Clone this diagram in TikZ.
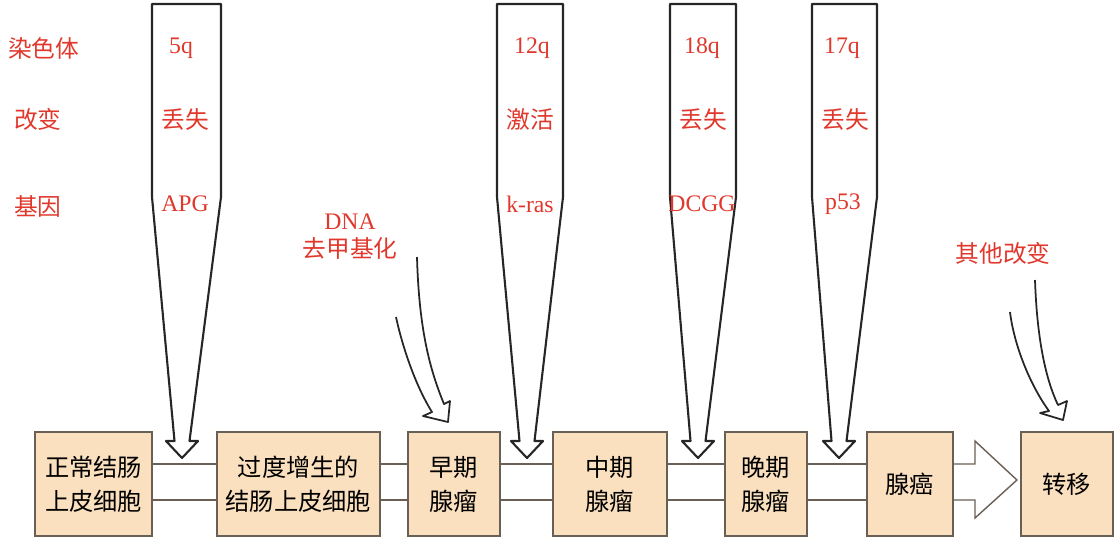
\documentclass[tikz,border=0pt]{standalone}
\usepackage{fontspec}
\setmainfont{Liberation Serif}
\newfontfamily\cjk{Noto Sans CJK SC}
\usepackage{xcolor}
\usepackage{tikz}
\usetikzlibrary{arrows,positioning}
\definecolor{labelred}{RGB}{224,56,44}
\definecolor{stagefill}{RGB}{250,224,190}
\definecolor{stageline}{RGB}{105,95,85}
\tikzstyle{stage} = [rectangle, draw=stageline, fill=stagefill, line width=1pt, align=center, minimum height=2.08cm, inner sep=2pt, font=\cjk\fontsize{13.8}{19.3}\selectfont]
\tikzstyle{change} = [text=labelred, align=center, inner sep=1pt, font=\fontsize{13.5}{16}\selectfont]
\tikzstyle{funnel} = [draw=black!85, line width=1.2pt, line join=round]
\tikzstyle{link} = [draw=stageline, line width=0.8pt]

\begin{document}
\begin{tikzpicture}[x=0.02cm, y=-0.02cm, node distance=3.12cm, >=stealth]
	\useasboundingbox (0,0) rectangle (1118,539);
	% stages
	\node[stage, minimum width=2.34cm] (normal) at (93.5,484) {正常结肠\\上皮细胞};
	\node[stage, minimum width=3.26cm] (hyper) [right of=normal, node distance=4.1cm] {过度增生的\\结肠上皮细胞};
	\node[stage, minimum width=1.84cm] (early) [right of=hyper, node distance=3.11cm] {早期\\腺瘤};
	\node[stage, minimum width=2.28cm] (mid) [right of=early] {中期\\腺瘤};
	\node[stage, minimum width=1.64cm] (late) [right of=mid] {晚期\\腺瘤};
	\node[stage, minimum width=1.72cm] (carc) [right of=late, node distance=2.88cm] {腺癌};
	\node[stage, minimum width=1.84cm] (meta) [right of=carc, node distance=3.14cm] {转移};
	\draw[link] ([yshift=0.4cm]normal.east) -- ([yshift=0.4cm]hyper.west) ([yshift=-0.32cm]normal.east) -- ([yshift=-0.32cm]hyper.west);
	\draw[link] ([yshift=0.4cm]hyper.east) -- ([yshift=0.4cm]early.west) ([yshift=-0.32cm]hyper.east) -- ([yshift=-0.32cm]early.west);
	\draw[link] ([yshift=0.4cm]early.east) -- ([yshift=0.4cm]mid.west) ([yshift=-0.32cm]early.east) -- ([yshift=-0.32cm]mid.west);
	\draw[link] ([yshift=0.4cm]mid.east) -- ([yshift=0.4cm]late.west) ([yshift=-0.32cm]mid.east) -- ([yshift=-0.32cm]late.west);
	\draw[link] ([yshift=0.4cm]late.east) -- ([yshift=0.4cm]carc.west) ([yshift=-0.32cm]late.east) -- ([yshift=-0.32cm]carc.west);
	% hollow arrow to metastasis
	\draw[link] ([yshift=0.4cm]carc.east) -- (975,464) -- (975,441) -- ([xshift=-0.06cm,yshift=0.08cm]meta.west) -- (975,518) -- (975,500) -- ([yshift=-0.32cm]carc.east);

	% row labels
	\node[change, anchor=west] (chrom) at (6,48) {\cjk 染色体};
	\node[change, anchor=west] (alter) at (12,119) {\cjk 改变};
	\node[change, anchor=west] (gene) at (12,206) {\cjk 基因};

	% funnels
	\foreach \l/\r/\t in {152/221/182, 497/563/527, 670/736/698, 812/877/839}
		\draw[funnel] (\l,4) -- (\l,197) -- (\t-7.5,441) -- (\t-16,441) -- (\t,458) -- (\t+16,441) -- (\t+7.5,441) -- (\r,197) -- (\r,4) -- cycle;
	\node[change] (chrA) at (181,48) {5q};
	\node[change] (altA) at (185,119) {\cjk 丢失};
	\node[change] (apg) at (185,204) {APG};
	\node[change] (chrB) at (532,48) {12q};
	\node[change] (altB) at (530,119) {\cjk 激活};
	\node[change] (kras) at (530,204) {k-ras};
	\node[change] (chrC) at (702,48) {18q};
	\node[change] (altC) at (703,119) {\cjk 丢失};
	\node[change] (dcgg) at (702,204) {DCGG};
	\node[change] (chrD) at (842,48) {17q};
	\node[change] (altD) at (845,119) {\cjk 丢失};
	\node[change] (p53) at (843,204) {p53};

	% curved arrows
	\node[change] (dna) at (350,237) {DNA\\\cjk 去甲基化};
	\draw[funnel, line width=1pt] (396,317) .. controls (402,345) and (415,385) .. (432,412) -- (423,416) -- (448,422) -- (450,401) -- (444,404) .. controls (430,370) and (419,330) .. (417,257);
	\node[change] (other) at (1003,253) {\cjk 其他改变};
	\draw[funnel, line width=1pt] (1010,312) .. controls (1014,345) and (1030,385) .. (1049,411) -- (1040,413) -- (1063,420) -- (1067,401) -- (1058,405) .. controls (1046,380) and (1037,340) .. (1035,280);
\end{tikzpicture}
\end{document}
